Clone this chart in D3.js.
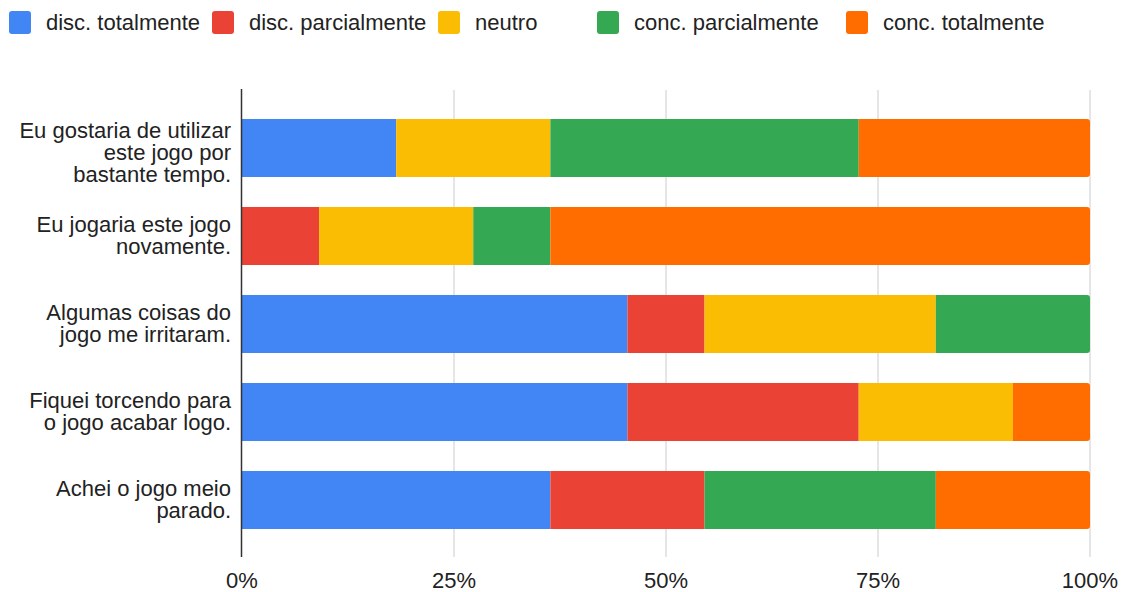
<!DOCTYPE html>
<html>
<head>
<meta charset="utf-8">
<script src="https://cdn.jsdelivr.net/npm/d3@7"></script>
<style>
  body { margin: 0; background: #fff; }
  svg { font-family: Arial, "Liberation Sans", sans-serif; }
</style>
</head>
<body>
<svg id="chart" width="1131" height="592"></svg>
<script>
// categories (rows, top to bottom)
const questions = [
  ["Eu gostaria de utilizar", "este jogo por", "bastante tempo."],
  ["Eu jogaria este jogo", "novamente."],
  ["Algumas coisas do", "jogo me irritaram."],
  ["Fiquei torcendo para", "o jogo acabar logo."],
  ["Achei o jogo meio", "parado."]
];
const seriesNames = ["disc. totalmente", "disc. parcialmente", "neutro", "conc. parcialmente", "conc. totalmente"];
const seriesColors = ["#4285f4", "#ea4335", "#fbbc04", "#34a853", "#ff6d01"];

// answer counts per row, one array per series
const discTotal   = [2, 0, 5, 5, 4];
const discParcial = [0, 1, 1, 3, 2];
const neutro      = [2, 2, 3, 2, 0];
const concParcial = [4, 1, 2, 0, 3];
const concTotal   = [3, 7, 0, 1, 2];

const tickValues = [0, 0.25, 0.5, 0.75, 1];

const svg = d3.select("#chart");

const x = d3.scaleLinear().domain([0, 1]).range([242, 1090]);
const y = d3.scaleBand().domain(d3.range(questions.length)).range([104, 544]).paddingInner(0.34).paddingOuter(0.17);

// build table for stack (share of answers)
const table = questions.map((q, i) => {
  const row = { idx: i };
  const vals = [discTotal[i], discParcial[i], neutro[i], concParcial[i], concTotal[i]];
  const total = d3.sum(vals);
  seriesNames.forEach((s, j) => row[s] = vals[j] / total);
  return row;
});
const stacked = d3.stack().keys(seriesNames)(table);

// gridlines
svg.append("g")
  .selectAll("line")
  .data(tickValues.slice(1))
  .enter()
  .append("line")
  .attr("x1", d => x(d)).attr("x2", d => x(d))
  .attr("y1", 90).attr("y2", 557)
  .attr("stroke", "#cccccc")
  .attr("stroke-width", 1);

// bar segment path, right corners rounded on the last segment
const segPath = d => {
  const x0 = x(d[0]), x1 = x(d[1]);
  const y0 = y(d.data.idx), y1 = y0 + y.bandwidth();
  if (d[1] < 0.9999) return `M${x0},${y0}H${x1}V${y1}H${x0}Z`;
  const r = 3;
  return `M${x0},${y0}H${x1 - r}Q${x1},${y0} ${x1},${y0 + r}V${y1 - r}Q${x1},${y1} ${x1 - r},${y1}H${x0}Z`;
};

svg.append("g")
  .selectAll("g")
  .data(stacked)
  .enter()
  .append("g")
  .attr("fill", (d, i) => seriesColors[i])
  .selectAll("path")
  .data(d => d.filter(p => p[1] - p[0] > 0))
  .enter()
  .append("path")
  .attr("d", segPath);

// axis line
svg.append("line")
  .attr("x1", 241.5).attr("x2", 241.5)
  .attr("y1", 89).attr("y2", 557)
  .attr("stroke", "#333")
  .attr("stroke-width", 1.5);

// x tick labels
svg.append("g")
  .style("font-size", "22px")
  .attr("fill", "#222")
  .selectAll("text")
  .data(tickValues)
  .enter()
  .append("text")
  .attr("x", d => x(d))
  .attr("y", 588)
  .attr("text-anchor", "middle")
  .text(d => d3.format(".0%")(d));

// category labels
const lh = 22;
const labels = svg.append("g")
  .style("font-size", "22px")
  .attr("fill", "#222")
  .selectAll("text")
  .data(questions)
  .enter()
  .append("text")
  .attr("text-anchor", "end")
  .attr("transform", (d, i) => {
    const cy = y(i) + y.bandwidth() / 2;
    const first = cy + 7 - (d.length - 1) * lh / 2 + (d.length > 2 ? 4.5 : 0);
    return `translate(231, ${first})`;
  });
labels.selectAll("tspan")
  .data(d => d)
  .enter()
  .append("tspan")
  .attr("x", 0)
  .attr("y", (d, i) => i * lh)
  .text(d => d);

// legend
const legendX = [9, 212, 438, 597, 846];
const legendItem = svg.append("g")
  .selectAll("g")
  .data(seriesNames)
  .enter()
  .append("g")
  .attr("transform", (d, i) => `translate(${legendX[i]}, 11)`);

legendItem.append("rect")
  .attr("width", 22)
  .attr("height", 23)
  .attr("rx", 3)
  .attr("fill", (d, i) => seriesColors[i]);

legendItem.append("text")
  .attr("x", 37)
  .attr("y", 19)
  .style("font-size", "22px")
  .attr("fill", "#222")
  .text(d => d);
</script>
</body>
</html>
